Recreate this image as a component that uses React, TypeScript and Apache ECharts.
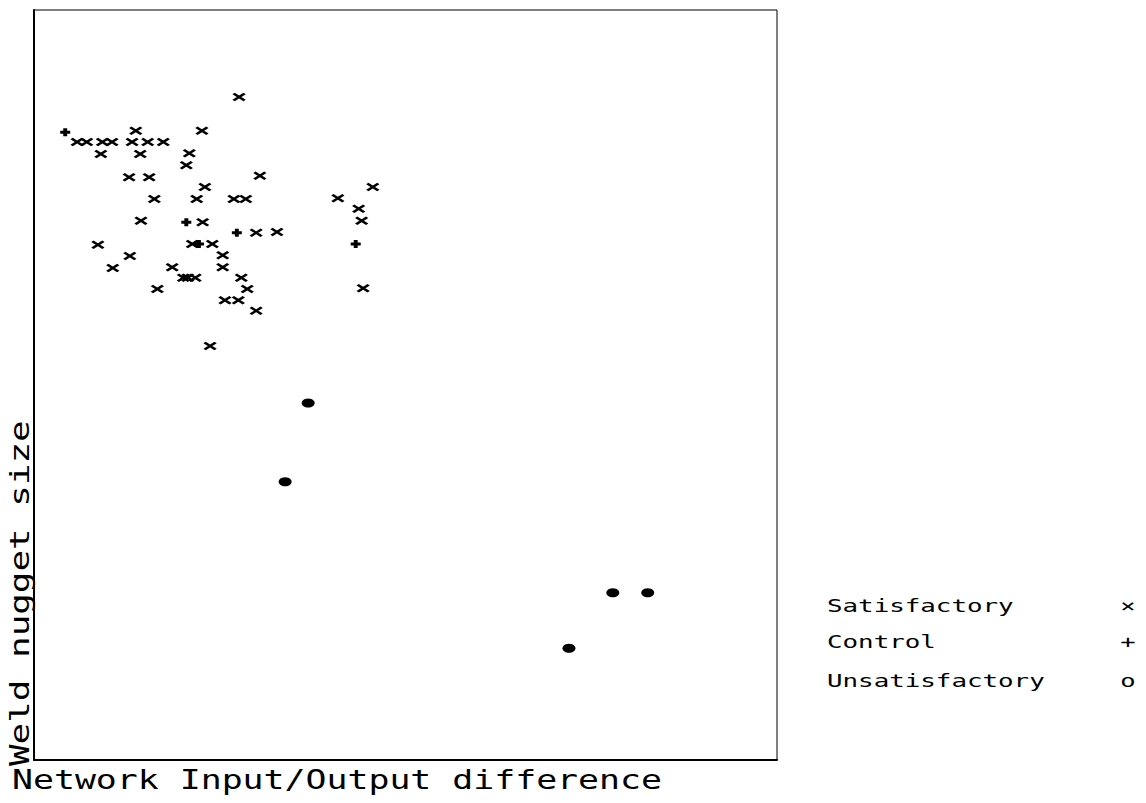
import React, { useEffect, useRef } from "react";
import * as echarts from "echarts";

// Values, on a 0–100 scale for both axes (no ticks shown).
const satisfactoryX = [27.6, 13.7, 22.6, 5.8, 7.1, 9.2, 10.5, 13.2, 15.3, 17.4, 9.0, 14.3, 20.9, 20.5, 12.8, 15.5, 30.4, 23.0, 45.6, 16.2, 21.9, 26.9, 28.5, 40.9, 43.7, 14.4, 22.7, 44.1, 29.9, 32.7, 8.6, 21.3, 24.0, 12.9, 25.4, 10.6, 18.6, 25.4, 20.1, 20.7, 21.7, 27.9, 16.6, 28.7, 44.3, 25.7, 27.5, 29.9, 23.7];
const satisfactoryY = [88.4, 83.9, 83.9, 82.4, 82.4, 82.4, 82.4, 82.4, 82.4, 82.4, 80.8, 80.8, 80.9, 79.3, 77.7, 77.7, 77.9, 76.4, 76.4, 74.8, 74.8, 74.8, 74.8, 74.9, 73.5, 71.9, 71.7, 71.9, 70.3, 70.4, 68.7, 68.8, 68.8, 67.2, 67.3, 65.6, 65.7, 65.7, 64.3, 64.3, 64.3, 64.3, 62.8, 62.8, 62.9, 61.3, 61.3, 59.9, 55.2];
const controlX = [4.2, 20.5, 22.2, 27.3, 43.3];
const controlY = [83.7, 71.7, 68.8, 70.3, 68.8];
const unsatisfactoryX = [36.9, 33.8, 77.9, 82.6, 72.0];
const unsatisfactoryY = [47.6, 37.1, 22.3, 22.3, 14.9];

const legendNames = ["Satisfactory", "Control", "Unsatisfactory"];
const legendGlyphs = ["\u00d7", "+", "o"];
const xTitle = "Network Input/Output difference";
const yTitle = "Weld nugget size";

const zip = (xs: number[], ys: number[]) => xs.map((x, i) => [x, ys[i]]);

const FONT = '"DejaVu Sans Mono", monospace';

export default function App() {
  const ref = useRef<HTMLDivElement>(null);
  useEffect(() => {
    if (!ref.current) return;
    const chart = echarts.init(ref.current, null, { renderer: "svg" });
    const legendY = [606, 642, 681];
    chart.setOption({
      animation: false,
      backgroundColor: "#fff",
      grid: {
        left: 34,
        top: 10,
        width: 743,
        height: 750,
        show: true,
        borderColor: "#000",
        borderWidth: 1,
        backgroundColor: "transparent",
      },
      xAxis: {
        type: "value",
        min: 0,
        max: 100,
        axisLine: { show: true, onZero: false, lineStyle: { color: "#000", width: 2 } },
        axisTick: { show: false },
        axisLabel: { show: false },
        splitLine: { show: false },
      },
      yAxis: {
        type: "value",
        min: 0,
        max: 100,
        axisLine: { show: true, onZero: false, lineStyle: { color: "#000", width: 2 } },
        axisTick: { show: false },
        axisLabel: { show: false },
        splitLine: { show: false },
      },
      series: [
        {
          name: legendNames[0],
          type: "scatter",
          data: zip(satisfactoryX, satisfactoryY),
          symbol: "path://M0,0L10,7M10,0L0,7",
          symbolSize: [11, 7],
          itemStyle: { color: "transparent", borderColor: "#000", borderWidth: 2.6, opacity: 1 },
        },
        {
          name: legendNames[1],
          type: "scatter",
          data: zip(controlX, controlY),
          symbol: "path://M0,3.5L9,3.5M4.5,0L4.5,7",
          symbolSize: [10, 8],
          itemStyle: { color: "transparent", borderColor: "#000", borderWidth: 3.5, opacity: 1 },
        },
        {
          name: legendNames[2],
          type: "scatter",
          data: zip(unsatisfactoryX, unsatisfactoryY),
          symbol: "circle",
          symbolSize: [13, 9],
          itemStyle: { color: "#000", opacity: 1 },
        },
      ],
      graphic: [
        {
          type: "text",
          x: 12,
          y: 779,
          scaleX: 1.29,
          style: { text: xTitle, font: `27px ${FONT}`, fill: "#000", textVerticalAlign: "middle" },
        },
        {
          type: "text",
          x: 20,
          y: 766,
          rotation: Math.PI / 2,
          scaleX: 1.33,
          style: { text: yTitle, font: `27px ${FONT}`, fill: "#000", textVerticalAlign: "middle" },
        },
        ...legendNames.map((n, i) => ({
          type: "text",
          x: 827,
          y: legendY[i],
          scaleX: 1.52,
          style: { text: n, font: `17px ${FONT}`, fill: "#000", textVerticalAlign: "middle" },
        })),
        ...legendGlyphs.map((g, i) => ({
          type: "text",
          x: 1128,
          y: legendY[i],
          scaleX: 1.5,
          style: { text: g, font: `17px ${FONT}`, fill: "#000", textAlign: "center", textVerticalAlign: "middle" },
        })),
      ],
    });
    return () => chart.dispose();
  }, []);
  return (
    <div
      ref={ref}
      style={{ position: "absolute", left: 0, top: 0, width: 1146, height: 803, background: "#fff" }}
    />
  );
}
